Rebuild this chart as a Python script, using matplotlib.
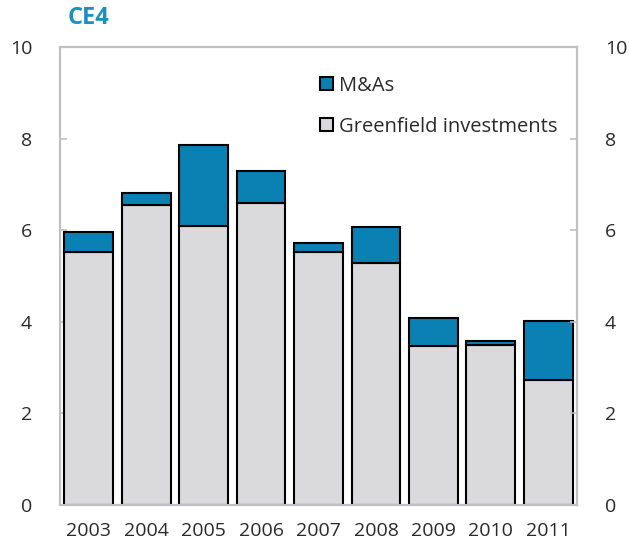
import matplotlib
matplotlib.use("Agg")
import matplotlib.pyplot as plt
from matplotlib.patches import Patch
import numpy as np

years = ["2003", "2004", "2005", "2006", "2007", "2008", "2009", "2010", "2011"]
greenfield = [5.52, 6.55, 6.09, 6.60, 5.52, 5.28, 3.47, 3.49, 2.73]
mas = [0.43, 0.26, 1.76, 0.69, 0.19, 0.80, 0.61, 0.09, 1.29]
yticks = [0, 2, 4, 6, 8, 10]

BLUE = "#0b80b3"
GREY = "#dadadc"
SPINE = "#c0c0c0"
TXT = "#2a2a2a"

plt.rcParams['font.family'] = ['Open Sans', 'DejaVu Sans']

fig = plt.figure(figsize=(6.29, 5.44), dpi=100)
ax = fig.add_axes([60/629, 1 - 505/544, 517/629, 458/544])

x = np.arange(len(years))
ax.bar(x, greenfield, width=0.85, color=GREY, edgecolor="black", linewidth=1.5, zorder=3)
ax.bar(x, mas, bottom=greenfield, width=0.85, color=BLUE, edgecolor="black", linewidth=1.5, zorder=3)

ax.set_xlim(-0.5, len(years) - 0.5)
ax.set_ylim(0, 10)
ax.set_xticks(x)
ax.set_xticklabels(years, fontsize=14, color=TXT)
ax.set_yticks(yticks)
ax.set_yticklabels([str(v) for v in yticks], fontsize=14, color=TXT)
ax.tick_params(axis='x', length=0, pad=12)
ax.tick_params(axis='y', direction='in', length=5, color=SPINE, width=1.2, pad=20)
for s in ax.spines.values():
    s.set_color(SPINE)
    s.set_linewidth(1.5)

ax2 = ax.twinx()
ax2.set_ylim(0, 10)
ax2.set_yticks(yticks)
ax2.set_yticklabels([str(v) for v in yticks], fontsize=14, color=TXT)
ax2.tick_params(axis='y', direction='in', length=5, color=SPINE, width=1.2, pad=20)
for s in ax2.spines.values():
    s.set_color(SPINE)
    s.set_linewidth(1.5)

handles = [Patch(facecolor=BLUE, edgecolor="black", linewidth=1.5, label="M&As"),
           Patch(facecolor=GREY, edgecolor="black", linewidth=1.5, label="Greenfield investments")]
leg = ax.legend(handles=handles, loc="upper left", bbox_to_anchor=(0.488, 0.955),
                frameon=False, fontsize=14.5, handlelength=0.65, handleheight=0.65,
                handletextpad=0.3, labelspacing=1.05, borderaxespad=0)
for t in leg.get_texts():
    t.set_color(TXT)

fig.text(68/629, 1 - 18/544, "CE4", color="#1a8fc0", fontsize=17, fontweight="bold",
         va="center", ha="left")

fig.savefig("out.png", dpi=100)
